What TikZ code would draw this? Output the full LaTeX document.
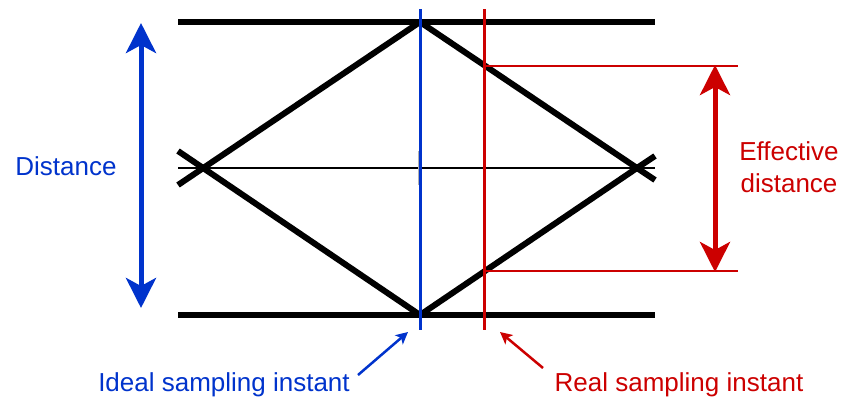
\documentclass[tikz,border=0pt]{standalone}
\usepackage{fontspec}
\setmainfont{Liberation Sans}
\usetikzlibrary{arrows.meta}
\definecolor{idealblue}{RGB}{0,51,204}
\definecolor{realred}{RGB}{204,0,0}

\begin{document}
\begin{tikzpicture}[x=1pt,y=-1pt,>=Stealth,font=\fontsize{26}{32}\selectfont]
\tikzstyle{bar}=[line width=6.5pt]
\tikzstyle{eye}=[line width=6pt,line join=round]
\tikzstyle{lbl}=[inner sep=0pt,anchor=base,align=center]
\tikzstyle{bigarrow}=[line width=5pt,{Stealth[length=30pt,width=30pt,inset=8pt]}-{Stealth[length=30pt,width=30pt,inset=8pt]}]
\tikzstyle{pointer}=[line width=2.5pt,-{Stealth[length=12pt,width=12pt,inset=3pt]}]
\useasboundingbox (0,0) rectangle (845,399);
% eye pattern
\draw[bar] (178,22) -- (655,22);
\draw[bar] (178,315) -- (655,315);
\draw[line width=2.6pt] (178,168) -- (655,168);
\draw[eye] (178,151) -- (420,315) -- (637,168) -- (655,156);
\draw[eye] (178,185) -- (420,22) -- (637,168) -- (655,180);
\draw[line width=3.5pt,gray!60] (420,151) -- (420,185);
% sampling instants
\coordinate (idealTop) at (420,9);
\coordinate (idealBot) at (420,330);
\coordinate (realTop) at (484,9);
\coordinate (realBot) at (484,330);
\draw[idealblue,line width=3pt] (idealTop) -- (idealBot);
\draw[realred,line width=3pt] (realTop) -- (realBot);
% distances
\coordinate (distTop) at (141,23);
\coordinate (distBot) at (141,308);
\draw[bigarrow,idealblue] (distTop) -- (distBot);
\node[lbl,idealblue] (dist) at (66,175) {Distance};
\coordinate (effTop) at (738,66);
\coordinate (effBot) at (738,271);
\coordinate (effTopL) at (484,66);
\coordinate (effBotL) at (484,271);
\draw[realred,line width=2.8pt] (effTopL) -- (effTop);
\draw[realred,line width=2.8pt] (effBotL) -- (effBot);
\draw[bigarrow,realred] ([xshift=-23pt,yshift=1pt]effTop) -- ([xshift=-23pt,yshift=-1pt]effBot);
\node[lbl,realred] (eff) at (789,192) {Effective\\distance};
% labels below
\node[lbl,idealblue] (ideal) at (224,391) {Ideal sampling instant};
\node[lbl,realred] (real) at (679,391) {Real sampling instant};
\coordinate (idealTail) at (358,375);
\coordinate (idealTip) at (408,332);
\coordinate (realTail) at (543,368);
\coordinate (realTip) at (500,332);
\draw[pointer,idealblue] (idealTail) -- (idealTip);
\draw[pointer,realred] (realTail) -- (realTip);
\end{tikzpicture}
\end{document}
